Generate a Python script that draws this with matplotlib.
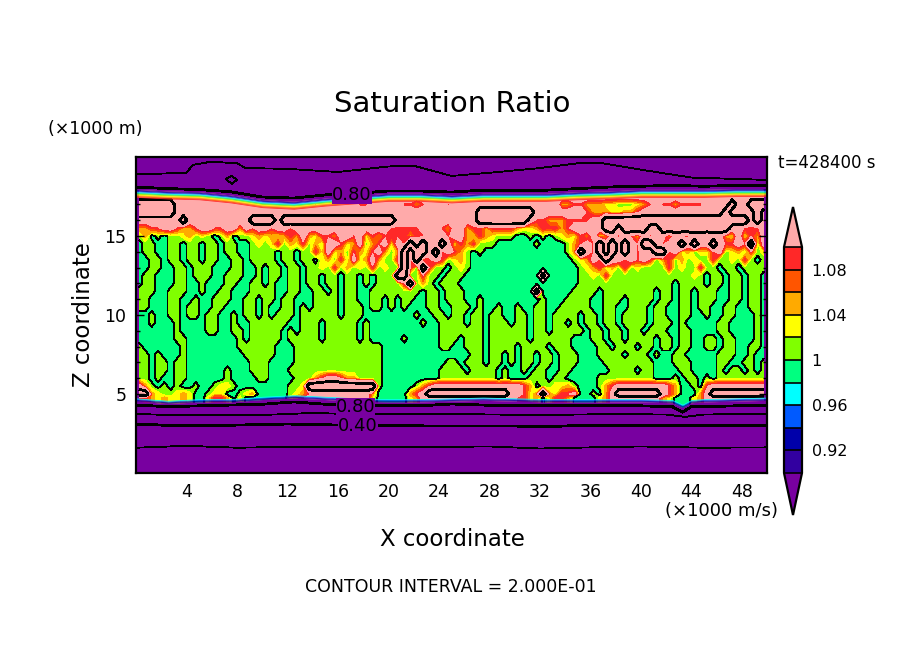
import numpy as np
import matplotlib
matplotlib.use("Agg")
import matplotlib.pyplot as plt
from matplotlib.colors import ListedColormap, BoundaryNorm

W, H = 904, 654

levels = [0.90, 0.92, 0.94, 0.96, 0.98, 1.00, 1.02, 1.04, 1.06, 1.08, 1.10]
band_colors = ["#3200A0", "#0000AA", "#005AFF", "#00FFFF", "#00FF80",
               "#80FF00", "#FFFF00", "#FFAA00", "#FF5500", "#FF2828"]
under_color = "#7800A0"
over_color = "#FFAAAA"

# saturation ratio class, one char per 0.5 km in x
# . <1, x just over 1, y yellow, o orange, r red, p pink, # above the 1.2 contour
code_values = {".": 0.99, "x": 1.01, "y": 1.03, "o": 1.05, "r": 1.09, "p": 1.13, "#": 1.30}

row_z = [17.5, 17, 16.5, 16, 15.5, 15, 14.5, 14, 13.5, 13, 12.5, 12, 11.5, 11,
         10.5, 10, 9.5, 9, 8.5, 8, 7.5, 7, 6.5, 6, 5.5, 5, 4.75]
rows = [
    "pppppppppp pppppppppp pppppppppp pppppppppp pppppppppp pppppppppp pppppppppp pppppppppp pppppppppp pppppppppp",
    "######pppp pppppppppp pppppppprp ppppprrppp pprrorpppr pppppppppp pppppppoor roooyyxxxy orprrorrrr pppp#pp###",
    "######pppp pppppppppp pppppppppp pppppppppp pppppppppp pppp###### ###ppppppp proooyyoor pppppppppp ppp#pppp#p",
    "ppppppp#pp pppppppp## ##p####### ########## #ppppppppp pppp###### ##prrooorr rrpp###### ########## #######p#p",
    "oorrpproor pprrppoprp prpprppppp pppppppppp rrrrrpppro pporrorrrr oyyorrrorp pppp##p### #pp####### ####pprrrp",
    "xo.x.xxyox yx.xo.xxyo yoyoropoyr ropprpyror rrrorrpppr ppoyroyxxx ..x.x.xyoy ropyoprpro prppoprrpp rppoypyrop",
    ".xx..xx.xx .xx.xx..xy xyrxoyrxox ppryopxorp ypr#p#pr#p yrorxxx... ...x....xo rpr#p#p#pr ##prpp#p#p p#prrpr#xp",
    ".xx..xx.xx .xx.xx..xx xx.xx.xxry pyoxroyrpo xo#p##p#rp rox.x..... ........xo #pr#p#p#pr pp##rpyoxy yrpxyoxrxy",
    "..xx.xx.xx .xx..xx.xx xx.xx.xx.y oxrxpyopox xr#r#orprx yox....... .........x yopr#pprpr prxorxoxyx xrxxyxrx.x",
    "..xx..xx.x xx...xx..x .xx.xx.xxy xrxoxyxrxy xx#rx#rxx. xyx....... .......... xyorxoxrxy xxxxrxyxxr xx.xx.xxxx",
    ".xx...xx.x xx..xxx..x .xx.xx.xx. xx.xx.x.xx x##xxrxx.x xx........ ....#..... xxyxrxxxxx xxxxxxxxyx .xx.xx.xx.",
    ".xx...xx.. x...xx..xx .x..xx.xx. xx.xx.x.xx xxr#xox.xx x......... .......... xxxxxxxxxx xxxxx.xxxx .xx.xx.xx.",
    "xxx..xxx.. x..xx...xx xx..xx..xx .x.xx..xxx xxxxx.xx.x xx........ ...#.....x xxx.xxxxxx xx.xx.xx.x xx..xx.xx.",
    "xx...xx..x ..xxx..xx. xx.xx...xx xx.xx..xx. x.xx..xx.x xx..x..... ....x...xx xx..xxx.xx xx.xx.xx.x xx..xx.xx.",
    "xx...xx.xx ..xx...xx. x..xx.x.xx xx.xxx.xx. x.x...xx.. xxx.x..x.. x..xx..xxx xx..xx..xx x.xx..xx.x x..xx..xx.",
    "..x..xx.xx .xx..x.xx. x.xxx.xxxx xx.xxx.... ....x..xx. xx.xx.xx.. xx.xx.xxxx .xx.xx.xxx x.xx..xx.. x..xx...x.",
    "..x...x... .xx..x..xx xxxx..xxx. xxxxx.x... .....x..xx xx.xx.xxx. xx.xx.xx.x .xx.xx.xxx x.xxx.x... ..xx....x.",
    "......x... .xx..xx.xx xxx.x.xxx. xxxxx.x... ........xx xxxxx.xxxx xx.xx.xxxx x.xx.xx.xx .xxx..xx.. ..xx....x.",
    "......xx.. ......x.xx xxx.xxxxx. xxxxx.x... ..x.....xx x.xxx.xxxx xx.xxxxxx. ..xx.xx.xx xx.xx.xx.. xx.xx...x.",
    "x......x.. ......xxxx xx...xxxxx xxxxxxxxx. ........xx ..xxx.xxxx .xxxx.xxx. ...xx.xxx. xx.xx.xx.. xx.xx..xx.",
    "xx.x...x.. .......xxx xx...xxxxx xxxxxxxxx. .......... ...xx.xx.x .xx.xx.xxx ...xxxx.xx x.x..xx... ..xxx..x..",
    "xx.xx.xx.. ........xx x....xxxxx xxxxxxxxx. .........x x.xxx.xx.x .xx.xx.xxx ....xxxxxx xx...xxx.. ..xx..xx.x",
    "xx.xx.xx.. ....x...xx x...xxxxxx xxxxxxxxx. ........xx xx.xxxx.x. .x.xx..xx. .....xxxx. xx....xx.. ..x.xx.x.x",
    "xx.x..xx.. ....x....x x....xxxor pprooxxxx. ........xx xxxxxxx.x. ..xxx.xx.. ...xxxxxxx xx...x.xx. x.xxxxxxxx",
    "pox.x.x..x ..xyyx.... ....xxy### ########x. ....xorppp pppppppppp pro.xxyyox ...xorpppp ppppro..x. rppppppppp",
    "##oyxxyoy. .xyy..xyo. ....xyorpp pppppppo.. ...orp#### #########p pryo#oyrrp ..x.op#### ###pro...o p#########",
    "rroyoyyoy. .yrro.y... ....yorppp pppppppy.. ...yoppppp pppppppppp rryo.yrro. ...yoppppp pppoy...yo pppppppppp",
]

# edges of the purple dry layers, km
top_edge_x = [0, 2.5, 5, 7.5, 10, 12.5, 15, 17.5, 20, 22.5, 25, 27.5, 30, 32.5, 35, 37.5, 40, 42.5, 45, 47.5, 50]
top_edge_z = [17.95, 17.85, 17.8, 17.6, 17.3, 17.2, 17.4, 17.55, 17.7, 17.7, 17.6, 17.7, 17.7, 17.7, 17.8, 17.85, 17.95, 17.95, 17.95, 18.0, 18.0]
low_edge_x = [0, 2.5, 5, 7.5, 10, 12.5, 15, 17.5, 20, 22.5, 25, 27.5, 30, 32.5, 35, 37.5, 40, 42.5, 43.3, 44, 45, 47.5, 50]
low_edge_z = [4.55, 4.4, 4.5, 4.5, 4.65, 4.75, 4.65, 4.55, 4.5, 4.5, 4.55, 4.6, 4.55, 4.5, 4.5, 4.5, 4.5, 4.45, 4.15, 4.45, 4.5, 4.55, 4.6]

# contour lines inside the dry layers
top_08_x = top_edge_x
top_08_z = [18.1, 18.0, 17.94, 17.8, 17.47, 17.4, 17.6, 17.7, 17.85, 17.85, 17.78, 17.9, 17.9, 17.9, 18.0, 18.1, 18.15, 18.2, 18.15, 18.2, 18.2]
top_06_x = [0, 4, 4.5, 6, 8, 8.7, 12, 16, 20, 22, 25, 28, 32, 35, 37, 40, 44, 50]
top_06_z = [18.9, 19.0, 19.5, 19.7, 19.6, 19.3, 19.25, 19.05, 19.4, 19.45, 18.8, 19.0, 19.3, 19.6, 19.6, 19.2, 18.7, 18.55]
low_08_x = low_edge_x
low_08_z = [4.3, 4.2, 4.25, 4.3, 4.35, 4.5, 4.35, 4.25, 4.25, 4.25, 4.37, 4.3, 4.25, 4.25, 4.25, 4.25, 4.25, 4.2, 3.85, 4.2, 4.2, 4.25, 4.3]
low_06_x = [0, 3, 8, 11, 14, 17, 20, 25, 32, 38, 42, 43.5, 45, 50]
low_06_z = [3.73, 3.67, 3.67, 3.7, 3.8, 3.73, 3.73, 3.73, 3.67, 3.73, 3.7, 3.55, 3.7, 3.75]
low_04_x = [0, 3, 6, 9, 12, 15, 19, 25, 30, 33, 36, 40, 44, 50]
low_04_z = [3.1, 3.0, 3.0, 3.05, 3.1, 3.05, 3.0, 2.97, 2.97, 2.95, 3.03, 3.0, 3.0, 3.03]
low_02_x = [0, 2, 4, 8, 12, 16, 20, 25, 28, 32, 36, 40, 45, 50]
low_02_z = [1.6, 1.66, 1.72, 1.6, 1.65, 1.62, 1.62, 1.66, 1.68, 1.55, 1.62, 1.68, 1.6, 1.62]
oval_x = [7.1, 7.6, 8.0, 7.6, 7.1]
oval_z = [18.6, 18.8, 18.55, 18.3, 18.6]
speck_x = [5.6, 6.1]
speck_z = [19.7, 19.7]

x_ticks = list(range(4, 49, 4))
z_ticks = [5, 10, 15]
bar_ticks = [0.92, 0.96, 1.0, 1.04, 1.08]
bar_labels = ["0.92", "0.96", "1", "1.04", "1.08"]


def px(x, y):
    return x / W, 1 - y / H


field = np.array([[code_values[c] for c in r.replace(" ", "").ljust(100, ".")[:100]] for r in rows])
field = np.vstack([field[:1], field, field[-1:]])
grid_z = [18.6] + row_z + [4.0]
grid_x = (np.arange(100) + 0.5) * 0.5

fig = plt.figure(figsize=(W / 100, H / 100), dpi=100, facecolor="white")
ax = fig.add_axes([136 / W, 1 - 473 / H, 631 / W, 316 / H])
ax.set_facecolor(under_color)

cmap = ListedColormap(band_colors)
cmap.set_under(under_color)
cmap.set_over(over_color)
norm = BoundaryNorm(levels, cmap.N)
cf = ax.contourf(grid_x, grid_z, field, levels=levels, cmap=cmap, norm=norm,
                 extend="both", antialiased=False, zorder=1)
ax.contour(grid_x, grid_z, field, levels=[1.0], colors="k", linewidths=0.6, antialiased=False, zorder=1.5)
ax.contour(grid_x, grid_z, field, levels=[1.2], colors="k", linewidths=1.3, antialiased=False, zorder=1.5)

# thin coloured rims against the dry air, then the dry air itself
top_edge = np.array(top_edge_z)
low_edge = np.array(low_edge_z)
rim = 0.05
for i, c in enumerate(band_colors):
    ax.fill_between(top_edge_x, top_edge - (i + 1) * rim, top_edge - i * rim, color=c, lw=0, antialiased=False, zorder=2)
for i, c in enumerate(band_colors[:4]):
    ax.fill_between(low_edge_x, low_edge + i * rim, low_edge + (i + 1) * rim, color=c, lw=0, antialiased=False, zorder=2)
ax.fill_between(top_edge_x, top_edge, 20, color=under_color, lw=0, antialiased=False, zorder=2)
ax.fill_between(low_edge_x, 0, low_edge, color=under_color, lw=0, antialiased=False, zorder=2)

for lx, lz, lw in [(top_08_x, top_08_z, 1.3), (top_06_x, top_06_z, 0.6), (low_08_x, low_08_z, 1.3),
                   (low_06_x, low_06_z, 0.6), (low_04_x, low_04_z, 1.3), (low_02_x, low_02_z, 0.6),
                   (oval_x, oval_z, 0.6), (speck_x, speck_z, 1.3)]:
    ax.plot(lx, lz, color="k", lw=lw, antialiased=False, zorder=3)

for tx, tz, s in [(17.1, 17.6, "0.80"), (17.4, 4.2, "0.80"), (17.6, 2.98, "0.40")]:
    ax.text(tx, tz, s, ha="center", va="center", fontsize=13, zorder=4,
            bbox=dict(facecolor=under_color, edgecolor="none", pad=0))

ax.set_xlim(0, 50)
ax.set_ylim(0, 20)
ax.set_xticks(x_ticks)
ax.set_xticks(np.arange(2, 50, 4), minor=True)
ax.set_yticks(z_ticks)
ax.set_yticks([z for z in range(1, 20) if z not in z_ticks], minor=True)
ax.tick_params(which="major", direction="in", top=True, right=True, length=6, width=1,
               labelsize=12.5, pad=7, zorder=5)
ax.tick_params(which="minor", direction="in", top=True, right=True, length=3, width=1)
for s in ax.spines.values():
    s.set_linewidth(1.6)
    s.set_zorder(6)

# colorbar axes includes the two pointed ends
cax = fig.add_axes([784 / W, 1 - 515 / H, 18 / W, 308 / H])
cb = fig.colorbar(cf, cax=cax, extend="both", extendfrac=(0.186, 0.177), drawedges=True)
cb.set_ticks(bar_ticks)
cb.set_ticklabels(bar_labels)
cb.ax.tick_params(length=0, labelsize=11.5, pad=7)
cb.ax.minorticks_off()
cb.outline.set_linewidth(1.6)
cb.dividers.set_linewidth(1.2)

fig.text(*px(452, 104), "Saturation Ratio", fontsize=21, ha="center", va="center")
fig.text(*px(95, 129), "(×1000 m)", fontsize=12.5, ha="center", va="center")
fig.text(*px(722, 511), "(×1000 m/s)", fontsize=13, ha="center", va="center")
fig.text(*px(452, 539), "X coordinate", fontsize=16.5, ha="center", va="center")
fig.text(*px(83, 315), "Z coordinate", fontsize=16.5, ha="center", va="center", rotation=90)
fig.text(*px(451, 587), "CONTOUR INTERVAL = 2.000E-01", fontsize=12.5, ha="center", va="center")
fig.text(*px(827, 163), "t=428400 s", fontsize=12, ha="center", va="center")

fig.savefig("out.png", dpi=100)
